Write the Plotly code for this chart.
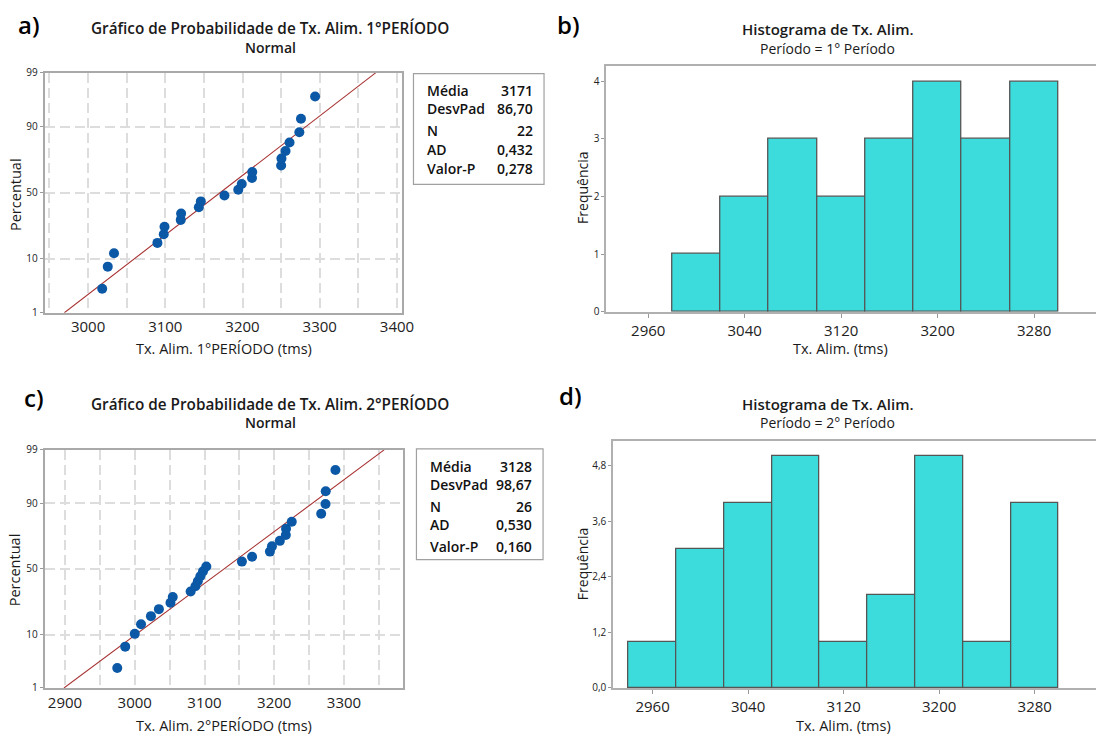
import plotly.graph_objects as go
from statistics import NormalDist

W, H = 1108, 742

# ---------------- data ----------------
p1_values = [3018.3, 3025.5, 3033.6, 3089.8, 3098.0, 3099.0, 3120.0, 3120.5,
             3143.4, 3146.0, 3176.6, 3194.5, 3199.0, 3212.3, 3212.6, 3250.0,
             3250.4, 3255.7, 3260.9, 3273.6, 3275.7, 3294.0]
p2_values = [2974.9, 2986.3, 3000.0, 3009.0, 3023.2, 3034.6, 3051.2, 3054.5,
             3080.1, 3087.0, 3090.4, 3094.0, 3097.9, 3102.6, 3153.6, 3168.2,
             3193.8, 3196.7, 3208.0, 3216.6, 3216.9, 3225.1, 3267.3, 3273.5,
             3273.8, 3287.7]

stats_labels = ["Média", "DesvPad", "N", "AD", "Valor-P"]
stats1 = ["3171", "86,70", "22", "0,432", "0,278"]
stats2 = ["3128", "98,67", "26", "0,530", "0,160"]
mean1, sd1 = 3171, 86.70
mean2, sd2 = 3128, 98.67

pct_ticks = [1, 10, 50, 90, 99]
pct_text = ["1", "10", "50", "90", "99"]
xa_ticks = [2950, 3000, 3050, 3100, 3150, 3200, 3250, 3300, 3350, 3400]
xa_text = ["", "3000", "", "3100", "", "3200", "", "3300", "", "3400"]
xc_ticks = [2900, 2950, 3000, 3050, 3100, 3150, 3200, 3250, 3300, 3350]
xc_text = ["2900", "", "3000", "", "3100", "", "3200", "", "3300", ""]
hist_xticks = [2960, 3040, 3120, 3200, 3280]
hist_xtext = ["2960", "3040", "3120", "3200", "3280"]
hb_yticks = [0, 1, 2, 3, 4]
hb_ytext = ["0", "1", "2", "3", "4"]
hd_yticks = [0, 1.2, 2.4, 3.6, 4.8]
hd_ytext = ["0,0", "1,2", "2,4", "3,6", "4,8"]
bin_start, bin_end, bin_size = 2940, 3300, 40

# ---------------- helpers ----------------
nd = NormalDist()
FONT = "Open Sans"


def px(x):
    return x / W


def py(y):
    return 1 - y / H


def plot_pos(vals):
    v = sorted(vals)
    n = len(v)
    z = [nd.inv_cdf((i + 1 - 0.3) / (n + 0.4)) for i in range(n)]
    return v, z


z_lo, z_hi = nd.inv_cdf(0.01), nd.inv_cdf(0.99)

fig = go.Figure()

# probability plots
for vals, mean, sd, xa, ya in [(p1_values, mean1, sd1, "x", "y"),
                               (p2_values, mean2, sd2, "x3", "y3")]:
    fig.add_trace(go.Scatter(x=[mean + z_lo * sd, mean + z_hi * sd], y=[z_lo, z_hi],
                             mode="lines", line=dict(color="#a83232", width=1.1),
                             xaxis=xa, yaxis=ya, showlegend=False, hoverinfo="skip"))
    xs, zs = plot_pos(vals)
    fig.add_trace(go.Scatter(x=xs, y=zs, mode="markers",
                             marker=dict(color="#0b58a6", size=10),
                             xaxis=xa, yaxis=ya, showlegend=False))

# histograms
for vals, xa, ya in [(p1_values, "x2", "y2"), (p2_values, "x4", "y4")]:
    fig.add_trace(go.Histogram(x=vals, xbins=dict(start=bin_start, end=bin_end, size=bin_size),
                               autobinx=False,
                               marker=dict(color="#3cdcdd", line=dict(color="#555555", width=1.3)),
                               xaxis=xa, yaxis=ya, showlegend=False))

grid = dict(showgrid=True, gridcolor="#dddddd", gridwidth=2, griddash="10px,5px",
            showline=True, mirror=True, linecolor="#a9a9a9", linewidth=1.5,
            zeroline=False)
tickfont_small = dict(family=FONT, size=10, color="#222")
tickfont_big = dict(family=FONT, size=15, color="#222")

layout = dict(
    width=W, height=H, margin=dict(l=0, r=0, t=0, b=0),
    paper_bgcolor="white", plot_bgcolor="white", bargap=0,
    font=dict(family=FONT, color="#222"),
    xaxis=dict(domain=[px(45), px(406)], anchor="y", range=[2943.6, 3406],
               tickmode="array", tickvals=xa_ticks, ticktext=xa_text,
               tickfont=tickfont_big, ticks="", **grid),
    yaxis=dict(domain=[py(311), py(66)], anchor="x", range=[z_lo, z_hi],
               tickmode="array", tickvals=[nd.inv_cdf(p / 100) for p in pct_ticks],
               ticktext=pct_text, tickfont=tickfont_small, ticks="outside", ticklen=3,
               tickcolor="#999", **grid),
    xaxis3=dict(domain=[px(45), px(407)], anchor="y3", range=[2870.6, 3384],
                tickmode="array", tickvals=xc_ticks, ticktext=xc_text,
                tickfont=tickfont_big, ticks="", **grid),
    yaxis3=dict(domain=[py(694), py(451)], anchor="x3", range=[z_lo, z_hi],
                tickmode="array", tickvals=[nd.inv_cdf(p / 100) for p in pct_ticks],
                ticktext=pct_text, tickfont=tickfont_small, ticks="outside", ticklen=3,
                tickcolor="#999", **grid),
    xaxis2=dict(domain=[px(613), 1], anchor="y2", range=[2925.3, 3331.3],
                tickmode="array", tickvals=hist_xticks, ticktext=hist_xtext,
                tickfont=tickfont_big, ticks="outside", ticklen=4, tickcolor="#999",
                showline=True, mirror=True, linecolor="#b0b0b0", linewidth=2,
                showgrid=False, zeroline=False),
    yaxis2=dict(domain=[py(310), py(59)], anchor="x2", range=[0, 4.27],
                tickmode="array", tickvals=hb_yticks, ticktext=hb_ytext,
                tickfont=tickfont_small, ticks="outside", ticklen=3, tickcolor="#999",
                showline=True, linecolor="#b0b0b0", linewidth=2,
                showgrid=False, zeroline=False),
    xaxis4=dict(domain=[px(620), 1], anchor="y4", range=[2927.1, 3331.3],
                tickmode="array", tickvals=hist_xticks, ticktext=hist_xtext,
                tickfont=tickfont_big, ticks="outside", ticklen=4, tickcolor="#999",
                showline=True, mirror=True, linecolor="#b0b0b0", linewidth=2,
                showgrid=False, zeroline=False),
    yaxis4=dict(domain=[py(694), py(442)], anchor="x4", range=[0, 5.33],
                tickmode="array", tickvals=hd_yticks, ticktext=hd_ytext,
                tickfont=tickfont_small, ticks="outside", ticklen=3, tickcolor="#999",
                showline=True, linecolor="#b0b0b0", linewidth=2,
                showgrid=False, zeroline=False),
)
fig.update_layout(**layout)

ann = []


def text(x, y, s, size, weight=400, color="#1a1a1a", xanchor="center", angle=0):
    ann.append(dict(x=px(x), y=py(y), xref="paper", yref="paper", text=s,
                    showarrow=False, xanchor=xanchor, yanchor="middle", textangle=angle,
                    font=dict(family=FONT, size=size, color=color, weight=weight)))


# panel letters
text(29, 17, "a)", 24, 600, "#000")
text(575, 17, "b)", 24, 600, "#000")
text(34, 398, "c)", 24, 600, "#000")
text(577, 395, "d)", 24, 600, "#000")

# titles
text(273, 20, "Gráfico de Probabilidade de Tx. Alim. 1°PERÍODO", 15.3, 600)
text(273, 40, "Normal", 14, 600)
text(273, 404, "Gráfico de Probabilidade de Tx. Alim. 2°PERÍODO", 15.3, 600)
text(273, 423, "Normal", 14, 600)
text(837, 21, "Histograma de Tx. Alim.", 15, 600)
text(837, 41, "Período = 1° Período", 14, 400)
text(837, 404, "Histograma de Tx. Alim.", 15, 600)
text(837, 423, "Período = 2° Período", 14, 400)

# axis titles
text(226, 348, "Tx. Alim. 1°PERÍODO (tms)", 14.5)
text(226, 732, "Tx. Alim. 2°PERÍODO (tms)", 14.5)
text(15, 190, "Percentual", 14.5, angle=-90)
text(15, 573, "Percentual", 14.5, angle=-90)
text(850, 348, "Tx. Alim. (tms)", 14.5)
text(853, 732, "Tx. Alim. (tms)", 14.5)
text(589, 184, "Frequência", 14, angle=-90)
text(589, 568, "Frequência", 14, angle=-90)

# stats boxes
shapes = []
for (x0, y0, x1, y1), ys, vals in [((418, 67, 550, 180), [84, 102.5, 125.5, 144.5, 164], stats1),
                                   ((421, 450, 549, 563), [468, 486, 508.5, 527, 550], stats2)]:
    shapes.append(dict(type="rect", xref="paper", yref="paper",
                       x0=px(x0), x1=px(x1), y0=py(y1), y1=py(y0),
                       line=dict(color="#a0a0a0", width=1.2), fillcolor="white"))
    for lab, val, yy in zip(stats_labels, vals, ys):
        text(x0 + 12, yy, lab, 14, 600, "#111", xanchor="left")
        text(x1 - 9, yy, val, 14, 600, "#111", xanchor="right")

fig.update_layout(annotations=ann, shapes=shapes)
fig.write_html("out.html", config={"displayModeBar": False},
               post_script="document.body.style.margin='0px';document.body.style.overflow='hidden';")
